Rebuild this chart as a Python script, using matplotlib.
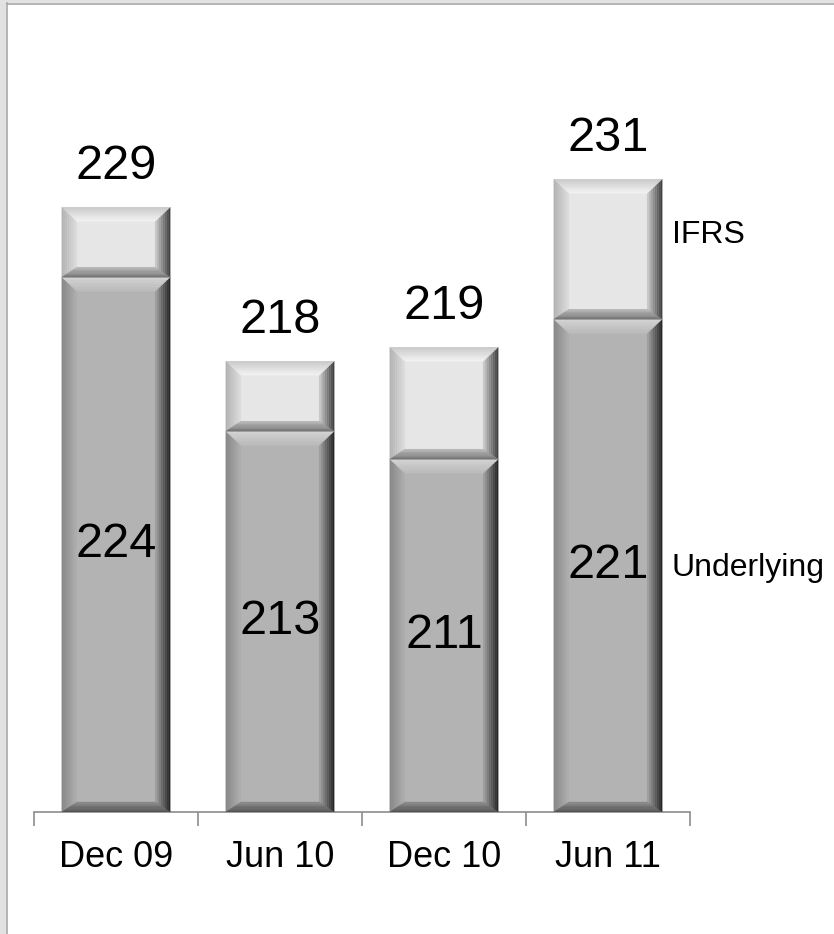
import numpy as np
import matplotlib.pyplot as plt
from matplotlib.patches import Polygon, Rectangle
from matplotlib.colors import to_rgb

# data
categories = ["Dec 09", "Jun 10", "Dec 10", "Jun 11"]
underlying = [224, 213, 211, 221]
ifrs = [229, 218, 219, 231]
axis_min = 185.8

plt.rcParams['font.family'] = ['Liberation Sans', 'DejaVu Sans']

W, H = 834, 934
fig = plt.figure(figsize=(W / 100, H / 100), dpi=100)
ax_l, ax_r, ax_b, ax_t = 34, 690, 812, 60   # pixel box of the axes
ax = fig.add_axes([ax_l / W, (H - ax_b) / H, (ax_r - ax_l) / W, (ax_b - ax_t) / H])
ax.set_xlim(-0.5, 3.5)
ax.set_ylim(axis_min, axis_min + (ax_b - ax_t) / 14.0)

# data units per pixel
ux = 4.0 / (ax_r - ax_l)
uy = (ax.get_ylim()[1] - ax.get_ylim()[0]) / (ax_b - ax_t)

x = np.arange(len(categories))
bw = 0.66
low = np.array(underlying) - axis_min
top = np.array(ifrs) - np.array(underlying)

bars_low = ax.bar(x, low, bw, bottom=axis_min, color="#b3b3b3", linewidth=0, zorder=2)
bars_top = ax.bar(x, top, bw, bottom=underlying, color="#e6e6e6", linewidth=0, zorder=2)

# bevel colours: (outer, inner) for top, left, right, bottom facets
bevel_low = {"t": ("#d6d6d6", "#bababa"), "l": ("#858585", "#b0b0b0"),
             "r": ("#202020", "#a6a6a6"), "b": ("#505050", "#8c8c8c")}
bevel_top = {"t": ("#c8c8c8", "#f3f3f3"), "l": ("#b0b0b0", "#dedede"),
             "r": ("#383838", "#d0d0d0"), "b": ("#707070", "#b8b8b8")}


def mix(c1, c2, t):
    a, b = np.array(to_rgb(c1)), np.array(to_rgb(c2))
    return tuple(a + (b - a) * t)


def bevel(p, cols, L=15, R=15, T=14, B=10, n=8):
    x0, y0 = p.get_x(), p.get_y()
    x1, y1 = x0 + p.get_width(), y0 + p.get_height()
    for k in range(n):
        t0, t1 = k / n, (k + 1) / n
        o = (x0 + t0 * L * ux, y0 + t0 * B * uy, x1 - t0 * R * ux, y1 - t0 * T * uy)
        i = (x0 + t1 * L * ux, y0 + t1 * B * uy, x1 - t1 * R * ux, y1 - t1 * T * uy)
        tm = (t0 + t1) / 2
        facets = {
            "t": [(o[0], o[3]), (o[2], o[3]), (i[2], i[3]), (i[0], i[3])],
            "b": [(o[0], o[1]), (o[2], o[1]), (i[2], i[1]), (i[0], i[1])],
            "l": [(o[0], o[1]), (o[0], o[3]), (i[0], i[3]), (i[0], i[1])],
            "r": [(o[2], o[1]), (o[2], o[3]), (i[2], i[3]), (i[2], i[1])],
        }
        for key in ["l", "r", "b", "t"]:
            c = mix(cols[key][0], cols[key][1], tm)
            ax.add_patch(Polygon(facets[key], closed=True, facecolor=c,
                                 edgecolor=c, linewidth=0.3, zorder=3))


for p in bars_low:
    bevel(p, bevel_low)
for p in bars_top:
    bevel(p, bevel_top)

# value labels
for xi, u, tot in zip(x, underlying, ifrs):
    ax.text(xi, (axis_min + u) / 2, str(u), ha="center", va="center",
            fontsize=35, zorder=5)
    ax.text(xi, tot + 2.9, str(tot), ha="center", va="center",
            fontsize=35, zorder=5)

# series names beside last bar
ax.text(3.5 - 0.11, 227.0, "IFRS", ha="left", va="center", fontsize=23,
        clip_on=False)
ax.text(3.5 - 0.11, underlying[-1] - 17.8, "Underlying", ha="left",
        va="center", fontsize=23, clip_on=False)

# axes styling
for s in ["top", "left", "right"]:
    ax.spines[s].set_visible(False)
ax.spines["bottom"].set_color("#8c8c8c")
ax.spines["bottom"].set_linewidth(1.2)
ax.set_yticks([])
ax.set_xticks(x)
ax.set_xticklabels(categories, fontsize=26)
ax.set_xticks(np.arange(-0.5, 4.0, 1.0), minor=True)
ax.tick_params(axis="x", which="major", length=0, pad=20)
ax.tick_params(axis="x", which="minor", length=10, width=1.2, color="#8c8c8c",
               direction="out")

# slide frame on the left and top edge
fig.add_artist(Rectangle((0, 0), 6 / W, 1, transform=fig.transFigure,
                         facecolor="#e2e2e2", edgecolor="none"))
fig.add_artist(Rectangle((0, 1 - 3 / H), 1, 3 / H, transform=fig.transFigure,
                         facecolor="#e2e2e2", edgecolor="none"))
fig.add_artist(plt.Line2D([6.5 / W, 6.5 / W], [0, 1 - 3 / H], transform=fig.transFigure,
                          color="#a8a8a8", linewidth=1.2))
fig.add_artist(plt.Line2D([6.5 / W, 1], [1 - 3.5 / H, 1 - 3.5 / H], transform=fig.transFigure,
                          color="#a8a8a8", linewidth=1.2))

fig.savefig("out.png", dpi=100)
